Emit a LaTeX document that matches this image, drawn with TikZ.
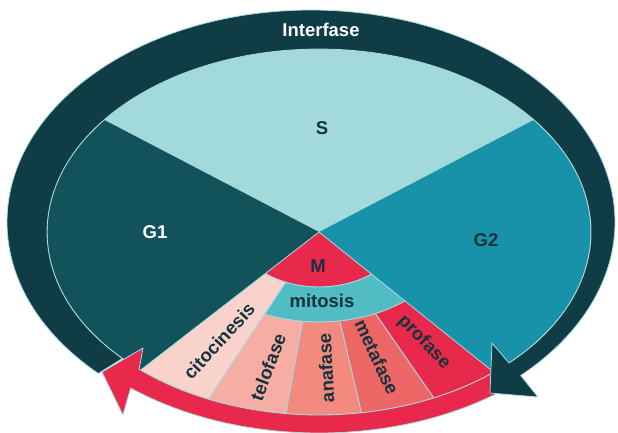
\documentclass[tikz,border=0pt]{standalone}
\usepackage{fontspec}
\setmainfont{Liberation Sans}
\usepackage{xcolor}
\usepackage{tikz}
\usetikzlibrary{calc}
\definecolor{ringdark}{HTML}{0F3C45}
\definecolor{gonecol}{HTML}{12525A}
\definecolor{scol}{HTML}{A2DADB}
\definecolor{gtwocol}{HTML}{1892A8}
\definecolor{mred}{HTML}{E8294B}
\definecolor{mitcol}{HTML}{51BCC4}
\definecolor{citocol}{HTML}{F9D3CB}
\definecolor{telocol}{HTML}{F5ADA4}
\definecolor{anacol}{HTML}{F28A80}
\definecolor{metacol}{HTML}{EE6767}
\definecolor{edgecol}{HTML}{A6DCDC}
\definecolor{textdark}{HTML}{16333D}

\begin{document}
\begin{tikzpicture}[x=1pt,y=1pt,
                    slice/.style={draw=edgecol,line width=0.8pt,line join=round},
                    main label/.style={font=\bfseries\fontsize{18.5}{19}\selectfont,text=textdark,inner sep=0pt}]
\useasboundingbox (0,0) rectangle (618,-432);

\coordinate (PieCentre) at (319,-232);
\coordinate (RingCentre) at (311,-222);

%DRAWING the pie (S, G1, G2) and the M fan
\begin{scope}[shift={(PieCentre)},xscale=1.486]
  \fill[scol] (0,0) -- (37.8:183) arc[start angle=37.8,end angle=142.2,radius=183] -- cycle;
  \fill[gonecol] (0,0) -- (142.2:183) arc[start angle=142.2,end angle=229,radius=183] -- cycle;
  \fill[gtwocol] (0,0) -- (310:183) arc[start angle=310,end angle=397.8,radius=183] -- cycle;
  \draw[edgecol,line width=0.8pt] (0,0) circle[radius=183];

  \filldraw[slice,fill=mred] (0,0) -- (229:55) arc[start angle=229,end angle=310,radius=55] -- cycle;
  \filldraw[slice,fill=citocol] (229:55) -- (229:183) arc[start angle=229,end angle=246,radius=183]
      -- (246:55) arc[start angle=246,end angle=229,radius=55] -- cycle;
  \filldraw[slice,fill=mitcol] (246:55) -- (246:90) arc[start angle=246,end angle=310,radius=90]
      -- (310:55) arc[start angle=310,end angle=246,radius=55] -- cycle;
  \foreach \a/\b/\col in {246/263/telocol,263/279/anacol,279/295/metacol,295/310/mred}
   {\filldraw[slice,fill=\col] (\a:90) -- (\a:183) arc[start angle=\a,end angle=\b,radius=183]
      -- (\b:90) arc[start angle=\b,end angle=\a,radius=90] -- cycle;}

  %red arrow under the fan
  \filldraw[slice,fill=mred] (310:183) arc[start angle=310,end angle=228.6,radius=183]
      -- (224.4:165.8) -- (223.8:202.3) -- (234.2:225.6) -- (230.9:201)
      arc[start angle=230.9,end angle=310,radius=201] -- cycle;
\end{scope}

%DRAWING the Interfase ring with its arrow
\filldraw[slice,fill=ringdark] (RingCentre) ++(225.6:304 and 212)
    arc[start angle=225.6,end angle=-46.4,x radius=304,y radius=212]
    -- (538,-397) -- (490,-393) -- (492,-343) -- (509,-363)
    arc[start angle=-45.7,end angle=223.7,x radius=272,y radius=183] -- cycle;

%Inserting labels
\node[main label,text=white] (InterfaseLabel) at (321,-30) {Interfase};
\node[main label] (SLabel) at (322,-128) {S};
\node[main label,text=white] (GOneLabel) at (155,-232) {G1};
\node[main label] (GTwoLabel) at (486,-240) {G2};
\node[main label] (MLabel) at (318,-266) {M};
\node[main label] (MitosisLabel) at (322,-301) {mitosis};

\node[main label,rotate=47.5] (CitoLabel) at (219,-341) {citocinesis};
\node[main label,rotate=69.3] (TeloLabel) at (268,-367) {telofase};
\node[main label,rotate=93] (AnaLabel) at (326,-368) {anafase};
\node[main label,rotate=-65.2] (MetaLabel) at (377,-357) {metafase};
\node[main label,rotate=-46.3] (ProLabel) at (424,-342) {profase};

\end{tikzpicture}
\end{document}
